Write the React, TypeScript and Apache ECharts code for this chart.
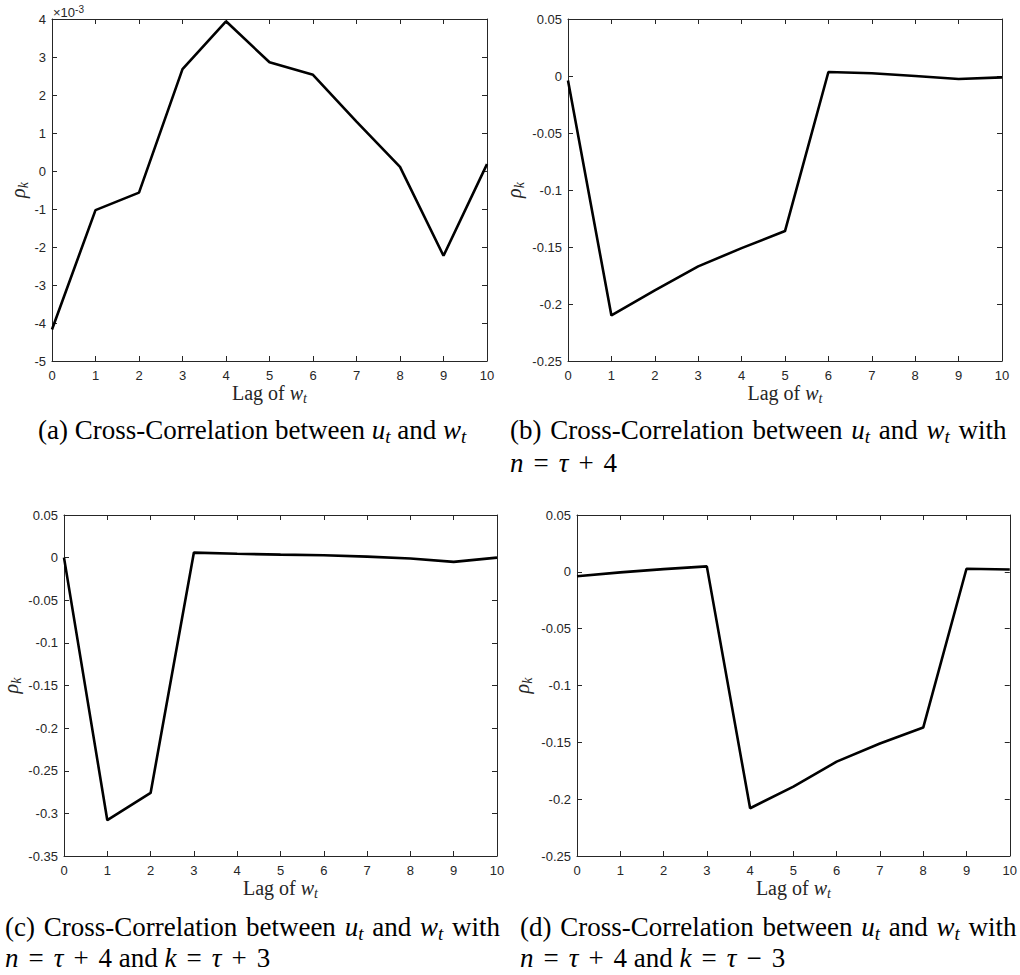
import React, { useEffect, useRef } from "react";
import * as echarts from "echarts";

// ---- data ----
const lags = [0, 1, 2, 3, 4, 5, 6, 7, 8, 9, 10];
// panel (a), values in units of 1e-3
const rhoA = [-4.17, -1.03, -0.57, 2.68, 3.94, 2.86, 2.53, 1.3, 0.11, -2.23, 0.18];
// panel (b) n = tau + 4
const rhoB = [-0.004, -0.21, -0.188, -0.167, -0.151, -0.136, 0.0035, 0.0024, 0.0, -0.0026, -0.0012];
// panel (c) n = tau + 4, k = tau + 3
const rhoC = [0.0, -0.308, -0.276, 0.0059, 0.0045, 0.0035, 0.0027, 0.0012, -0.001, -0.005, 0.0];
// panel (d) n = tau + 4, k = tau - 3
const rhoD = [-0.0039, -0.0005, 0.0024, 0.0048, -0.208, -0.189, -0.167, -0.151, -0.137, 0.0027, 0.002];

const xAxisName = "{r|Lag of }{m|w}{s|t}";
const yAxisName = "{m|ρ}{s|k}";
const exponentLabel = "{r|×10}{e|-3}";

const captionA1 = "{r|(a) Cross-Correlation between }{m|u}{s|t}{r| and }{m|w}{s|t}";
const captionB1 = "{r|(b)}{g| }{r|Cross-Correlation}{g| }{r|between}{g| }{m|u}{s|t}{g| }{r|and}{g| }{m|w}{s|t}{g| }{r|with}";
const captionB2 = "{m|n}{o|=}{m|τ}{o|+}{r|4}";
const captionC1 = "{r|(c)}{g| }{r|Cross-Correlation}{g| }{r|between}{g| }{m|u}{s|t}{g| }{r|and}{g| }{m|w}{s|t}{g| }{r|with}";
const captionC2 = "{m|n}{o|=}{m|τ}{o|+}{r|4 and }{m|k}{o|=}{m|τ}{o|+}{r|3}";
const captionD1 = "{r|(d)}{g| }{r|Cross-Correlation}{g| }{r|between}{g| }{m|u}{s|t}{g| }{r|and}{g| }{m|w}{s|t}{g| }{r|with}";
const captionD2 = "{m|n}{o|=}{m|τ}{o|+}{r|4 and }{m|k}{o|=}{m|τ}{o|−}{r|3}";

const AX = "#262626";
const SERIF = "Liberation Serif";
const SANS = "Liberation Sans";

const nameRich = {
  r: { fontFamily: SERIF, fontSize: 20, color: AX, lineHeight: 24 },
  m: { fontFamily: SERIF, fontSize: 20, fontStyle: "italic", color: AX, lineHeight: 24 },
  s: { fontFamily: SERIF, fontSize: 14, fontStyle: "italic", color: AX, lineHeight: 12, verticalAlign: "bottom" },
};

const CAP = 27;
const capRich = {
  r: { fontFamily: SERIF, fontSize: CAP, color: "#000", lineHeight: 31 },
  g: { fontFamily: SERIF, fontSize: CAP, color: "#000", lineHeight: 31, padding: [0, 1, 0, 1] },
  m: { fontFamily: SERIF, fontSize: CAP, fontStyle: "italic", color: "#000", lineHeight: 31 },
  o: { fontFamily: SERIF, fontSize: CAP, color: "#000", lineHeight: 31, padding: [0, 10, 0, 10] },
  s: { fontFamily: SERIF, fontSize: 19, fontStyle: "italic", color: "#000", lineHeight: 14, verticalAlign: "bottom" },
};

const panels = [
  { grid: { left: 52, top: 19, width: 435, height: 342 }, data: rhoA, min: -5, max: 4, interval: 1, yGap: 22 },
  { grid: { left: 568, top: 19, width: 434, height: 342 }, data: rhoB, min: -0.25, max: 0.05, interval: 0.05, yGap: 42 },
  { grid: { left: 62, top: 515, width: 435, height: 341 }, data: rhoC, min: -0.35, max: 0.05, interval: 0.05, yGap: 41 },
  { grid: { left: 577, top: 515, width: 434, height: 341 }, data: rhoD, min: -0.25, max: 0.05, interval: 0.05, yGap: 43 },
];

function buildOption() {
  const grid: any[] = [];
  const xAxis: any[] = [];
  const yAxis: any[] = [];
  const series: any[] = [];
  const axisLine = { show: true, onZero: false, lineStyle: { color: AX, width: 1 } };
  const axisTick = { show: true, inside: true, length: 5, lineStyle: { color: AX, width: 1 } };
  panels.forEach((p, i) => {
    grid.push({ ...p.grid, containLabel: false });
    xAxis.push({
      type: "value", gridIndex: i, position: "bottom", min: 0, max: 10, interval: 1,
      axisLine, axisTick, splitLine: { show: false },
      axisLabel: { color: AX, fontFamily: SANS, fontSize: 13, margin: 8 },
      name: xAxisName, nameLocation: "middle", nameGap: 20,
      nameTextStyle: { fontFamily: SERIF, fontSize: 20, rich: nameRich },
    });
    xAxis.push({
      type: "value", gridIndex: i, position: "top", min: 0, max: 10, interval: 1,
      axisLine, axisTick, splitLine: { show: false }, axisLabel: { show: false },
    });
    yAxis.push({
      type: "value", gridIndex: i, position: "left", min: p.min, max: p.max, interval: p.interval,
      axisLine, axisTick, splitLine: { show: false },
      axisLabel: { color: AX, fontFamily: SANS, fontSize: 13, margin: 6 },
      name: yAxisName, nameLocation: "middle", nameGap: p.yGap, nameRotate: 90,
      nameTextStyle: { fontFamily: SERIF, fontSize: 20, rich: nameRich },
    });
    yAxis.push({
      type: "value", gridIndex: i, position: "right", min: p.min, max: p.max, interval: p.interval,
      axisLine, axisTick, splitLine: { show: false }, axisLabel: { show: false },
    });
    series.push({
      type: "line", xAxisIndex: 2 * i, yAxisIndex: 2 * i, symbol: "none",
      data: lags.map((x, k) => [x, p.data[k]]),
      lineStyle: { color: "#000", width: 2.6 },
    });
  });

  const capText = (text: string, x: number, y: number) => ({
    type: "text", x, y,
    style: { text, rich: capRich, align: "left", verticalAlign: "middle", fill: "#000", fontFamily: SERIF, fontSize: CAP },
  });

  const graphic = [
    {
      type: "text", x: 53, y: 12,
      style: {
        text: exponentLabel, align: "left", verticalAlign: "middle", fill: AX, fontFamily: SANS, fontSize: 13,
        rich: {
          r: { fontFamily: SANS, fontSize: 13, color: AX, lineHeight: 16 },
          e: { fontFamily: SANS, fontSize: 10, color: AX, lineHeight: 16, verticalAlign: "top" },
        },
      },
    },
    capText(captionA1, 38, 430),
    capText(captionB1, 510, 430),
    capText(captionB2, 510, 463),
    capText(captionC1, 5, 927),
    capText(captionC2, 5, 958),
    capText(captionD1, 520, 927),
    capText(captionD2, 520, 958),
  ];

  return { animation: false, backgroundColor: "#fff", grid, xAxis, yAxis, series, graphic };
}

export default function App() {
  const ref = useRef<HTMLDivElement>(null);
  useEffect(() => {
    if (!ref.current) return;
    const chart = echarts.init(ref.current, null, { renderer: "svg" });
    chart.setOption(buildOption() as any);
    return () => chart.dispose();
  }, []);
  return (
    <div
      ref={ref}
      style={{ position: "absolute", left: 0, top: 0, width: 1020, height: 975, background: "#fff" }}
    />
  );
}
